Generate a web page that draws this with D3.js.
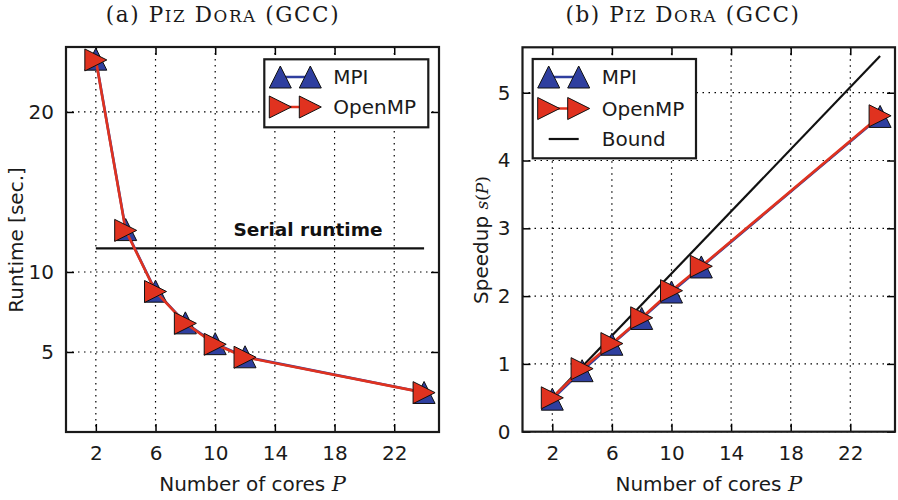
<!DOCTYPE html>
<html>
<head>
<meta charset="utf-8">
<script src="https://cdn.jsdelivr.net/npm/d3@7"></script>
<style>
  body { margin: 0; background: #fff; }
  svg { display: block; }
</style>
</head>
<body>
<svg id="chart" width="898" height="500"></svg>
<script>
// Measurements on Piz Dora (GCC): runtime and speedup vs. number of cores
const cores = [2, 4, 6, 8, 10, 12, 24];
const runtimeMPI = [23.3, 12.65, 8.8, 6.82, 5.52, 4.7, 2.47];
const runtimeOpenMP = [23.25, 12.6, 8.78, 6.79, 5.48, 4.67, 2.46];
const speedupMPI = [0.48, 0.9, 1.29, 1.67, 2.06, 2.43, 4.65];
const speedupOpenMP = [0.5, 0.93, 1.3, 1.68, 2.08, 2.44, 4.66];
const serialRuntime = 11.47;
const boundCores = [2, 24];
const boundSpeedup = [0.5, 5.54];

const xTicks = [2, 6, 10, 14, 18, 22];
const runtimeTicks = [5, 10, 20];
const speedupTicks = [0, 1, 2, 3, 4, 5];

const BLUE = "#2f3f9f";
const RED = "#e0321f";
const SANS = "'DejaVu Sans', sans-serif";
const SERIF = "'DejaVu Serif', 'Liberation Serif', serif";
const MS = 11; // marker half-size

const svg = d3.select("#chart");

function triUp(h) { return `M0,${-h}L${-h},${h}L${h},${h}Z`; }
function triRight(h) { return `M${h},0L${-h},${-h}L${-h},${h}Z`; }

// caption with hand-set small capitals for the machine name
function caption(cx, tag) {
  const fs = 21.5, sc = fs * 0.78;
  const t = svg.append("text")
    .attr("x", cx).attr("y", 22).attr("text-anchor", "middle")
    .attr("font-family", SERIF).attr("font-size", fs).attr("fill", "#1a1a1a")
    .attr("letter-spacing", 1.6);
  t.append("tspan").text(tag + " ");
  t.append("tspan").text("P");
  t.append("tspan").attr("font-size", sc).text("IZ");
  t.append("tspan").text(" D");
  t.append("tspan").attr("font-size", sc).text("ORA");
  t.append("tspan").text(" (GCC)");
}

function panel(opt) {
  const g = svg.append("g");
  const x = d3.scaleLinear().domain([0, 25]).range([opt.left, opt.right]);
  const y = d3.scaleLinear().domain(opt.yDomain).range([opt.bottom, opt.top]);

  // dotted grid
  g.append("g").selectAll("line").data(xTicks).join("line")
    .attr("x1", d => x(d)).attr("x2", d => x(d))
    .attr("y1", opt.top).attr("y2", opt.bottom)
    .attr("stroke", "#000").attr("stroke-width", 1.2).attr("stroke-dasharray", "1.5,4.5");
  g.append("g").selectAll("line").data(opt.yTicks).join("line")
    .attr("x1", opt.left).attr("x2", opt.right)
    .attr("y1", d => y(d)).attr("y2", d => y(d))
    .attr("stroke", "#000").attr("stroke-width", 1.2).attr("stroke-dasharray", "1.5,4.5");

  // axes with inward ticks on all four sides
  const tl = 8;
  const bottomAx = g.append("g").attr("transform", `translate(0,${opt.bottom})`)
    .call(d3.axisBottom(x).tickValues(xTicks).tickSizeInner(-tl).tickSizeOuter(0)
      .tickPadding(14).tickFormat(d3.format("d")));
  const topAx = g.append("g").attr("transform", `translate(0,${opt.top})`)
    .call(d3.axisTop(x).tickValues(xTicks).tickSizeInner(-tl).tickSizeOuter(0).tickFormat(""));
  const leftAx = g.append("g").attr("transform", `translate(${opt.left},0)`)
    .call(d3.axisLeft(y).tickValues(opt.yTicks).tickSizeInner(-tl).tickSizeOuter(0)
      .tickPadding(12).tickFormat(d3.format("d")));
  const rightAx = g.append("g").attr("transform", `translate(${opt.right},0)`)
    .call(d3.axisRight(y).tickValues(opt.yTicks).tickSizeInner(-tl).tickSizeOuter(0).tickFormat(""));
  [bottomAx, topAx, leftAx, rightAx].forEach(a => {
    a.select(".domain").remove();
    a.selectAll(".tick line").attr("stroke", "#000").attr("stroke-width", 1.5);
    a.selectAll("text").attr("font-family", SANS).attr("font-size", 20).attr("fill", "#1a1a1a");
  });
  bottomAx.selectAll("text").attr("dy", "0.71em");

  g.append("rect")
    .attr("x", opt.left).attr("y", opt.top)
    .attr("width", opt.right - opt.left).attr("height", opt.bottom - opt.top)
    .attr("fill", "none").attr("stroke", "#1a1a1a").attr("stroke-width", 2.2);

  caption(opt.titleX, opt.tag);

  // x label
  const xl = svg.append("text")
    .attr("x", (opt.left + opt.right) / 2).attr("y", 491).attr("text-anchor", "middle")
    .attr("font-family", SANS).attr("font-size", 20).attr("fill", "#1a1a1a");
  xl.append("tspan").text("Number of cores ");
  xl.append("tspan").attr("font-family", SERIF).attr("font-style", "italic").attr("font-size", 21).text("P");

  return { g, x, y };
}

function series(p, xs, ys, color, marker) {
  const line = d3.line().x((d, i) => p.x(xs[i])).y(d => p.y(d));
  p.g.append("path").datum(ys).attr("d", line)
    .attr("fill", "none").attr("stroke", color).attr("stroke-width", 2.6);
  p.g.append("g").selectAll("path").data(ys).join("path")
    .attr("transform", (d, i) => `translate(${p.x(xs[i])},${p.y(d)})`)
    .attr("d", marker(MS))
    .attr("fill", color).attr("stroke", "#111").attr("stroke-width", 1);
}

function legend(x0, y0, w, h, rows) {
  const lg = svg.append("g");
  lg.append("rect").attr("x", x0).attr("y", y0).attr("width", w).attr("height", h)
    .attr("fill", "#fff").attr("stroke", "#1a1a1a").attr("stroke-width", 2.2);
  rows.forEach(r => {
    const ax = x0 + 16, bx = x0 + 46;
    lg.append("line").attr("x1", ax).attr("x2", bx).attr("y1", r.y).attr("y2", r.y)
      .attr("stroke", r.color).attr("stroke-width", r.marker ? 2.5 : 2.2);
    if (r.marker) {
      [ax, bx].forEach(mx => lg.append("path")
        .attr("transform", `translate(${mx},${r.y})`).attr("d", r.marker(MS))
        .attr("fill", r.color).attr("stroke", "#111").attr("stroke-width", 1));
    }
    lg.append("text").attr("x", x0 + 69).attr("y", r.y).attr("dy", "0.36em")
      .attr("font-family", SANS).attr("font-size", 20).attr("fill", "#1a1a1a").text(r.label);
  });
}

// (a) runtime
const pa = panel({ left: 66, right: 439, top: 47, bottom: 432, yDomain: [0, 24.06],
  yTicks: runtimeTicks, tag: "(a)", titleX: 223 });
pa.g.append("line")
  .attr("x1", pa.x(cores[0])).attr("x2", pa.x(cores[cores.length - 1]))
  .attr("y1", pa.y(serialRuntime)).attr("y2", pa.y(serialRuntime))
  .attr("stroke", "#111").attr("stroke-width", 2.2);
pa.g.append("text").attr("x", 308).attr("y", pa.y(serialRuntime) - 12).attr("text-anchor", "middle")
  .attr("font-family", SANS).attr("font-weight", "bold").attr("font-size", 18.5).attr("fill", "#111")
  .text("Serial runtime");
series(pa, cores, runtimeMPI, BLUE, triUp);
series(pa, cores, runtimeOpenMP, RED, triRight);
svg.append("text").attr("transform", "translate(23,240) rotate(-90)").attr("text-anchor", "middle")
  .attr("font-family", SANS).attr("font-size", 20).attr("fill", "#1a1a1a").text("Runtime [sec.]");
legend(264.3, 59.3, 164, 68, [
  { y: 77, color: BLUE, marker: triUp, label: "MPI" },
  { y: 107, color: RED, marker: triRight, label: "OpenMP" }
]);

// (b) speedup
const pb = panel({ left: 522.5, right: 895, top: 47.3, bottom: 431.7, yDomain: [0, 5.67],
  yTicks: speedupTicks, tag: "(b)", titleX: 683 });
pb.g.append("path").datum(boundSpeedup)
  .attr("d", d3.line().x((d, i) => pb.x(boundCores[i])).y(d => pb.y(d)))
  .attr("fill", "none").attr("stroke", "#111").attr("stroke-width", 2.2);
series(pb, cores, speedupMPI, BLUE, triUp);
series(pb, cores, speedupOpenMP, RED, triRight);
const yl = svg.append("text").attr("transform", "translate(488,240) rotate(-90)").attr("text-anchor", "middle")
  .attr("font-family", SANS).attr("font-size", 20).attr("fill", "#1a1a1a");
yl.append("tspan").text("Speedup ");
yl.append("tspan").attr("font-family", SERIF).attr("font-style", "italic").attr("font-size", 17).text("s");
yl.append("tspan").attr("font-family", SERIF).attr("font-size", 17).text("(");
yl.append("tspan").attr("font-family", SERIF).attr("font-style", "italic").attr("font-size", 17).text("P");
yl.append("tspan").attr("font-family", SERIF).attr("font-size", 17).text(")");
legend(532.7, 59, 163.3, 99.3, [
  { y: 77, color: BLUE, marker: triUp, label: "MPI" },
  { y: 108.5, color: RED, marker: triRight, label: "OpenMP" },
  { y: 139, color: "#111", marker: null, label: "Bound" }
]);
</script>
</body>
</html>
